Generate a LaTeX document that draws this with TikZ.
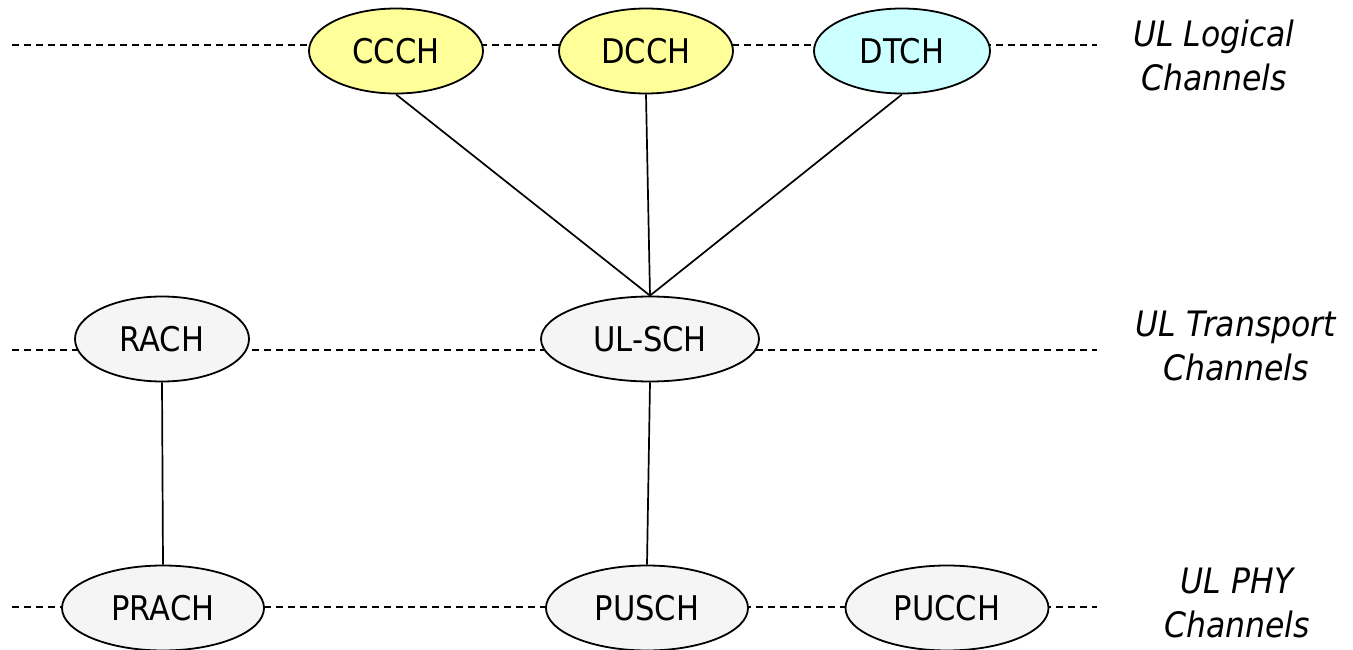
\documentclass[tikz,border=0pt]{standalone}
\usepackage{fontspec}
\setmainfont{DejaVu Sans Condensed}
\usetikzlibrary{shapes.geometric}
\definecolor{chyellow}{HTML}{FFFF99}
\definecolor{chcyan}{HTML}{CCFFFF}
\definecolor{chgray}{HTML}{F5F5F5}
\tikzset{
  chan/.style={ellipse, draw=black, line width=1.8pt, inner sep=0pt,
    minimum width=#1, minimum height=85pt, font=\fontsize{34}{40}\selectfont},
  chan/.default=174pt,
  guide/.style={line width=1.6pt, dash pattern=on 7pt off 5pt},
  link/.style={line width=1.7pt},
  layer/.style={align=center, font=\fontsize{35}{44}\selectfont\itshape}
}
\begin{document}
\begin{tikzpicture}[x=1pt,y=-1pt]
\useasboundingbox (0,0) rectangle (1353,650);
% dashed level guides
\coordinate (g1a) at (12,45);  \coordinate (g1b) at (1097,45);
\coordinate (g2a) at (12,350); \coordinate (g2b) at (1097,350);
\coordinate (g3a) at (12,607); \coordinate (g3b) at (1097,607);
\draw[guide] (g1a) -- (g1b);
\draw[guide] (g2a) -- (g2b);
\draw[guide] (g3a) -- (g3b);
% logical channels
\node[chan, fill=chyellow] (ccch) at (396,51) {CCCH};
\node[chan, fill=chyellow] (dcch) at (646,51) {DCCH};
\node[chan=176pt, fill=chcyan] (dtch) at (902,51) {DTCH};
% transport channels
\node[chan, fill=chgray] (rach) at (162,339) {RACH};
\node[chan=218pt, fill=chgray] (ulsch) at (650,339) {UL-SCH};
% physical channels
\node[chan=202pt, fill=chgray] (prach) at (163,608) {PRACH};
\node[chan=202pt, fill=chgray] (pusch) at (647,608) {PUSCH};
\node[chan=203pt, fill=chgray] (pucch) at (947,608) {PUCCH};
% mappings
\draw[link] (ccch.south) -- (ulsch.north);
\draw[link] (dcch.south) -- (ulsch.north);
\draw[link] (dtch.south) -- (ulsch.north);
\draw[link] (rach.south) -- (prach.north);
\draw[link] (ulsch.south) -- (pusch.north);
% layer labels
\node[layer] (lbl1) at (1214,55) {UL Logical\\Channels};
\node[layer] (lbl2) at (1236,346) {UL Transport\\Channels};
\node[layer] (lbl3) at (1237,603) {UL PHY\\Channels};
\end{tikzpicture}
\end{document}
